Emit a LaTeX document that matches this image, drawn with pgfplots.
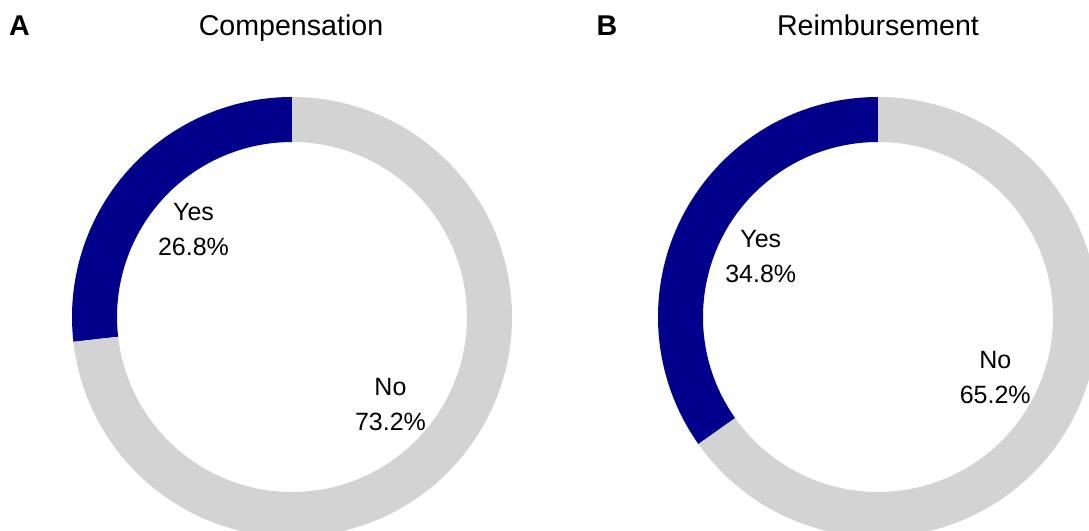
\documentclass[border=0pt]{standalone}
\usepackage{pgfplots}
\pgfplotsset{compat=1.18}
\usepackage{pgfplotstable}
\usepackage{fontspec}
\setmainfont{Liberation Sans}

\definecolor{yescol}{RGB}{0,0,139}
\definecolor{nocol}{RGB}{211,211,211}

% share of "Yes" and "No" answers per panel (percent)
\pgfplotstableread{
panel cx  yes  no
A     292 26.8 73.2
B     878 34.8 65.2
}\donutdata

\pgfplotstablegetelem{0}{yes}\of\donutdata \let\yesA\pgfplotsretval
\pgfplotstablegetelem{0}{no}\of\donutdata  \let\noA\pgfplotsretval
\pgfplotstablegetelem{1}{yes}\of\donutdata \let\yesB\pgfplotsretval
\pgfplotstablegetelem{1}{no}\of\donutdata  \let\noB\pgfplotsretval

% slice boundaries: start at 12 o'clock, "Yes" runs counter-clockwise
\pgfmathsetmacro\endA{90+3.6*\yesA}
\pgfmathsetmacro\midYA{90+1.8*\yesA}
\pgfmathsetmacro\midNA{\endA+1.8*\noA}
\pgfmathsetmacro\endB{90+3.6*\yesB}
\pgfmathsetmacro\midYB{90+1.8*\yesB}
\pgfmathsetmacro\midNB{\endB+1.8*\noB}

\newcommand\ring[4]{% center x, start angle, end angle, colour
  \fill[#4] (axis cs:#1,214) ++(#2:110pt)
    arc[start angle=#2, end angle=#3, radius=110pt]
    -- ++(#3:-22.5pt)
    arc[start angle=#3, end angle=#2, radius=87.5pt] -- cycle;}

\begin{document}
\begin{tikzpicture}
\useasboundingbox (0,0) rectangle (544.5pt,265.5pt);
\begin{axis}[
  at={(0,0)}, anchor=south west,
  scale only axis, width=544.5pt, height=265.5pt,
  xmin=0, xmax=1089, ymin=0, ymax=531,
  hide axis, clip=true,
]
  \ring{292}{90}{\endA}{yescol}
  \ring{292}{\endA}{450}{nocol}
  \ring{878}{90}{\endB}{yescol}
  \ring{878}{\endB}{450}{nocol}

  \path (axis cs:292,214) ++(\midYA:66pt)
    node[align=center, font=\fontsize{12.5}{17.5}\selectfont] {Yes\\\yesA\%};
  \path (axis cs:292,214) ++(\midNA:66pt)
    node[align=center, font=\fontsize{12.5}{17.5}\selectfont] {No\\\noA\%};
  \path (axis cs:878,214) ++(\midYB:66pt)
    node[align=center, font=\fontsize{12.5}{17.5}\selectfont] {Yes\\\yesB\%};
  \path (axis cs:878,214) ++(\midNB:66pt)
    node[align=center, font=\fontsize{12.5}{17.5}\selectfont] {No\\\noB\%};

  \node[anchor=base, font=\fontsize{14.3}{16}\selectfont] at (axis cs:291,495) {Compensation};
  \node[anchor=base, font=\fontsize{14.3}{16}\selectfont] at (axis cs:878,495) {Reimbursement};
  \node[anchor=base, font=\fontsize{14.3}{16}\selectfont\bfseries] at (axis cs:19.5,495) {A};
  \node[anchor=base, font=\fontsize{14.3}{16}\selectfont\bfseries] at (axis cs:607,495) {B};
\end{axis}
\end{tikzpicture}
\end{document}
